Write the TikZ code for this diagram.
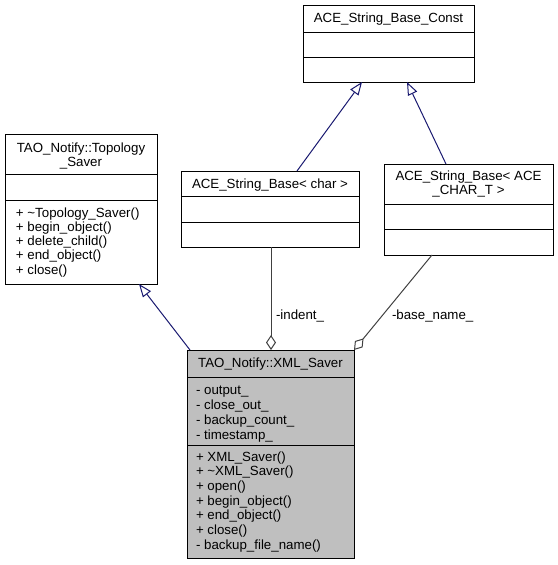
\documentclass[tikz,border=0pt]{standalone}
\usepackage{fontspec}
\setmainfont{Liberation Sans}
\usetikzlibrary{arrows.meta}
\definecolor{midblue}{HTML}{191970}
\definecolor{edgegray}{HTML}{404040}
\definecolor{classgray}{HTML}{BFBFBF}
\begin{document}
\begin{tikzpicture}[x=1pt,y=-1pt,
  cls/.style={draw=black, line width=1pt, inner sep=0pt, outer sep=0pt, anchor=north west, fill=white},
  divl/.style={draw=black, line width=1pt},
  txt/.style={inner sep=0pt, outer sep=0pt, font=\fontsize{13.3}{15}\selectfont},
  ttl/.style={txt, anchor=base},
  mem/.style={txt, anchor=base west},
  inh/.style={draw=midblue, line width=1pt, -{Triangle[length=13pt, width=10pt, fill=white]}},
  agg/.style={draw=edgegray, line width=1pt, -{Diamond[length=15pt, width=10pt, fill=white]}},
  lbl/.style={txt, anchor=base west},
]
\useasboundingbox (0,0) rectangle (557,565);

% ---- class boxes
\node[cls, minimum width=152pt, minimum height=150pt] (topo) at (5,134) {};
\draw[divl] ([yshift=-40pt]topo.north west) -- ([yshift=-40pt]topo.north east);
\draw[divl] ([yshift=-66pt]topo.north west) -- ([yshift=-66pt]topo.north east);
\node[ttl] (topoT1) at (81,152) {TAO\_Notify::Topology};
\node[ttl] (topoT2) at (81,166) {\_Saver};
\foreach \t [count=\i from 0] in {+ \textasciitilde Topology\_Saver(), + begin\_object(), + delete\_child(), + end\_object(), + close()}
  \node[mem] (topoM\i) at (16,217+14.25*\i) {\t};

\node[cls, minimum width=178pt, minimum height=76pt] (sbchar) at (181,171) {};
\draw[divl] ([yshift=-25pt]sbchar.north west) -- ([yshift=-25pt]sbchar.north east);
\draw[divl] ([yshift=-51pt]sbchar.north west) -- ([yshift=-51pt]sbchar.north east);
\node[ttl] (sbcharT) at (270,188) {ACE\_String\_Base< char >};

\node[cls, minimum width=171pt, minimum height=77pt] (const) at (303,5) {};
\draw[divl] ([yshift=-27pt]const.north west) -- ([yshift=-27pt]const.north east);
\draw[divl] ([yshift=-52pt]const.north west) -- ([yshift=-52pt]const.north east);
\node[ttl] (constT) at (388.5,22) {ACE\_String\_Base\_Const};

\node[cls, minimum width=169pt, minimum height=91pt] (sbT) at (384,164) {};
\draw[divl] ([yshift=-40pt]sbT.north west) -- ([yshift=-40pt]sbT.north east);
\draw[divl] ([yshift=-65pt]sbT.north west) -- ([yshift=-65pt]sbT.north east);
\node[ttl] (sbTT1) at (468.5,180) {ACE\_String\_Base< ACE};
\node[ttl] (sbTT2) at (468.5,194) {\_CHAR\_T >};

\node[cls, fill=classgray, minimum width=167pt, minimum height=208pt] (xml) at (187,350) {};
\draw[divl] ([yshift=-27pt]xml.north west) -- ([yshift=-27pt]xml.north east);
\draw[divl] ([yshift=-95pt]xml.north west) -- ([yshift=-95pt]xml.north east);
\node[ttl] (xmlT) at (270.5,367) {TAO\_Notify::XML\_Saver};
\foreach \t [count=\i from 0] in {- output\_, - close\_out\_, - backup\_count\_, - timestamp\_}
  \node[mem] (xmlA\i) at (196,394.3+14.9*\i) {\t};
\foreach \t [count=\i from 0] in {+ XML\_Saver(), + \textasciitilde XML\_Saver(), + open(), + begin\_object(), + end\_object(), + close(), - backup\_file\_name()}
  \node[mem] (xmlM\i) at (196,461+14.67*\i) {\t};

% ---- connectors
\draw[inh] ([xshift=3pt]xml.north west) -- ([xshift=-18pt]topo.south east);
\draw[inh] ([xshift=116pt]sbchar.north west) -- ([xshift=59pt]const.south west);
\draw[inh] ([xshift=62pt]sbT.north west) -- ([xshift=104pt]const.south west);
\draw[agg] ([xshift=90pt]sbchar.south west) -- ([xshift=84pt]xml.north west);
\draw[agg] ([xshift=48pt]sbT.south west) -- (xml.north east);

\node[lbl] (lindent) at (276,319) {-indent\_};
\node[lbl] (lbase) at (392,319) {-base\_name\_};
\end{tikzpicture}
\end{document}
